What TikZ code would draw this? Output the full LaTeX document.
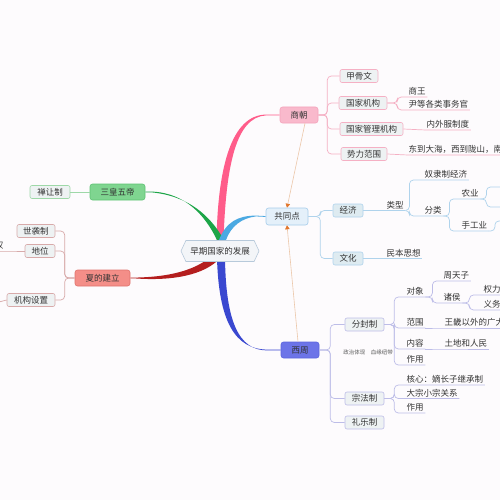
\documentclass[tikz,border=0pt]{standalone}
\usepackage{fontspec}
\setmainfont{Noto Sans CJK SC}
\usetikzlibrary{shapes.symbols,calc,arrows.meta}
\definecolor{bgc}{HTML}{FDFBFD}
\definecolor{txtc}{HTML}{333333}
\definecolor{gbr}{HTML}{1DA548}
\definecolor{gfill}{HTML}{7FD590}
\definecolor{gdraw}{HTML}{5EC373}
\definecolor{glight}{HTML}{9ED8A8}
\definecolor{rbr}{HTML}{B41E1E}
\definecolor{rfill}{HTML}{F48E88}
\definecolor{rdraw}{HTML}{E0726C}
\definecolor{rlight}{HTML}{D8AAAA}
\definecolor{pbr}{HTML}{FF5C8A}
\definecolor{pfill}{HTML}{F9B9CC}
\definecolor{pdraw}{HTML}{F4A3BB}
\definecolor{plight}{HTML}{F5B0C4}
\definecolor{lbr}{HTML}{4BA9E2}
\definecolor{lfill}{HTML}{E4F0FA}
\definecolor{ldraw}{HTML}{A6CCEA}
\definecolor{llight}{HTML}{AFD3EC}
\definecolor{bbr}{HTML}{3A48D0}
\definecolor{bfill}{HTML}{6C74E8}
\definecolor{bdraw}{HTML}{5C65DE}
\definecolor{blight}{HTML}{BDBDE8}
\definecolor{subfill}{HTML}{EEF2F3}
\definecolor{jjfill}{HTML}{DEEBF1}
\definecolor{arrl}{HTML}{ECC7AA}
\definecolor{arrh}{HTML}{E2762C}
\definecolor{rootfill}{HTML}{F3F5F8}
\definecolor{rootdraw}{HTML}{B7C9DA}
\pgfdeclarelayer{back}
\pgfsetlayers{back,main}
\tikzset{
  txt/.style={text=txtc, font=\fontsize{8.5}{10}\selectfont},
  rootbox/.style={signal, signal to=west and east, signal pointer angle=130,
    fill=rootfill, draw=rootdraw, line width=0.6pt, minimum width=78pt,
    minimum height=21pt, inner xsep=2pt, inner ysep=0pt, txt},
  mainbox/.style={rounded corners=2.5pt, minimum height=16pt, inner xsep=3pt,
    inner ysep=0pt, line width=0.6pt, txt},
  subbox/.style={rounded corners=2pt, minimum height=13pt, inner xsep=3pt,
    inner ysep=0pt, line width=0.6pt, fill=subfill, txt},
  leaf/.style={inner xsep=1.5pt, inner ysep=1.5pt, anchor=south west, txt},
  leafl/.style={inner xsep=1.5pt, inner ysep=1.5pt, anchor=south east, txt},
  br/.style={rounded corners=4pt, line width=0.7pt},
  gline/.style={br, draw=glight},
  rline/.style={br, draw=rlight},
  pline/.style={br, draw=plight},
  lline/.style={br, draw=llight},
  bline/.style={br, draw=blight},
  arrline/.style={draw=arrl, line width=0.6pt},
}
\begin{document}
\begin{tikzpicture}[x=1pt,y=-1pt]
\begin{pgfonlayer}{back}
\fill[bgc] (0,0) rectangle (500,500);
\end{pgfonlayer}
\useasboundingbox (0,0) rectangle (500,500);

% central and main nodes
\node[rootbox] (root) at (220,251) {早期国家的发展};
\node[mainbox, fill=gfill, draw=gdraw, minimum width=55pt] (shwd) at (117.5,192) {三皇五帝};
\node[mainbox, fill=rfill, draw=rdraw, minimum width=55pt] (xia) at (102.5,278) {夏的建立};
\node[mainbox, fill=pfill, draw=pdraw, minimum width=38pt] (shang) at (299,115) {商朝};
\node[mainbox, fill=lfill, draw=ldraw, minimum width=42pt, minimum height=17pt] (gtd) at (287,216.5) {共同点};
\node[mainbox, fill=bfill, draw=bdraw, minimum width=38pt] (xz) at (300,350) {西周};

% sub boxes
\node[subbox, draw=glight, minimum width=40pt] (srz) at (50,192) {禅让制};
\node[subbox, draw=rlight, minimum width=38pt] (sxz) at (36,231) {世袭制};
\node[subbox, draw=rlight, minimum width=30pt] (dw) at (40,251) {地位};
\node[subbox, draw=rlight, minimum width=48pt] (jgsz) at (31,300) {机构设置};
\node[subbox, draw=plight, minimum width=38pt] (jgw) at (359,76) {甲骨文};
\node[subbox, draw=plight, minimum width=48pt] (gjjg) at (363,103) {国家机构};
\node[subbox, draw=plight, minimum width=63pt] (gjgl) at (371.5,129) {国家管理机构};
\node[subbox, draw=plight, minimum width=46pt] (slfw) at (364,154) {势力范围};
\node[subbox, fill=jjfill, draw=llight, minimum width=30pt] (jj) at (348,210.5) {经济};
\node[subbox, fill=jjfill, draw=llight, minimum width=30pt] (wh) at (348,258.5) {文化};
\node[subbox, draw=blight, minimum width=39pt] (ffz) at (364.5,324.5) {分封制};
\node[subbox, draw=blight, minimum width=39pt] (zfz) at (364.5,398.5) {宗法制};
\node[subbox, draw=blight, minimum width=39pt] (lyz) at (364.5,422.5) {礼乐制};

% leaves
\node[leafl] (quan) at (5,251) {权};
\node[leaf] (sw) at (407,97) {商王};
\node[leaf] (yd) at (407,110) {尹等各类事务官};
\node[leaf] (nwf) at (425,130) {内外服制度};
\node[leaf] (dd) at (407,155) {东到大海，西到陇山，南};
\node[leaf] (lx) at (385,210.5) {类型};
\node[leaf] (nlz) at (423,180) {奴隶制经济};
\node[leaf] (fl) at (423,216) {分类};
\node[leaf] (ny) at (460,199) {农业};
\node[leaf] (sgy) at (460,231) {手工业};
\node[leaf] (mbsx) at (385,258.5) {民本思想};
\node[leaf] (dx) at (405,297) {对象};
\node[leaf] (ztz) at (442,281) {周天子};
\node[leaf] (zh) at (442,303) {诸侯};
\node[leaf] (ql) at (482,295) {权力};
\node[leaf] (yw) at (482,310) {义务};
\node[leaf] (fw) at (405,328) {范围};
\node[leaf] (wj) at (443,328) {王畿以外的广大};
\node[leaf] (nr) at (405,349) {内容};
\node[leaf] (td) at (443,349) {土地和人民};
\node[leaf] (zy1) at (405,365) {作用};
\node[leaf] (hx) at (405,385) {核心：嫡长子继承制};
\node[leaf] (dz) at (405,398.5) {大宗小宗关系};
\node[leaf] (zy2) at (405,413) {作用};
\node[text=txtc!80, font=\fontsize{5.5}{6}\selectfont] (zzxy) at (368,352) {政治体现\quad 血缘纽带};

% off-page free ends
\coordinate (offjg) at (-5,303);
\coordinate (offa) at (506,187);
\coordinate (offb) at (506,207);
\coordinate (offc) at (506,221);

% main tapered branches
\begin{pgfonlayer}{back}
\fill[pbr] (216.5,240) .. controls (218,165) and (232,115) .. (266,114.6)
  -- ($(shang.west)+(0,-0.4)$) -- ($(shang.west)+(0,0.4)$)
  -- (266,115.4) .. controls (236,117) and (226,165) .. (223.5,240) -- cycle;
\fill[gbr] (217,240) .. controls (205,215) and (185,193) .. (152,191.6)
  -- ($(shwd.east)+(0,-0.4)$) -- ($(shwd.east)+(0,0.4)$)
  -- (152,192.4) .. controls (188,196) and (210,215) .. (224,240) -- cycle;
\fill[lbr] (219,240) .. controls (226,222) and (238,215.6) .. (256,215.6)
  -- ($(gtd.west)+(0,-0.4)$) -- ($(gtd.west)+(0,0.4)$)
  -- (256,216.4) .. controls (242,218) and (231,226) .. (226,240) -- cycle;
\fill[bbr] (217,259) .. controls (219,320) and (234,349.6) .. (268,349.6)
  -- ($(xz.west)+(0,-0.4)$) -- ($(xz.west)+(0,0.4)$)
  -- (268,350.4) .. controls (238,351) and (226,320) .. (225,259) -- cycle;
\fill[rbr] (214,254) .. controls (195,272) and (165,277) .. (135,277.6)
  -- ($(xia.east)+(0,-0.4)$) -- ($(xia.east)+(0,0.4)$)
  -- (135,278.4) .. controls (170,281) and (205,276) .. (221,257) -- cycle;
\end{pgfonlayer}

% arrows between branches
\draw[arrline, -{Triangle[length=4pt,width=4.5pt,color=arrh,fill=arrh]}]
  ($(shang.south)+(6,0)$) -- (gtd.north);
\draw[arrline, -{Triangle[length=4pt,width=4.5pt,color=arrh,fill=arrh]}]
  ($(xz.north)+(-2,0)$) -- (gtd.south);

% connectors
\draw[gline] (shwd.west) -- (srz.east);
\foreach \c in {sxz,dw,jgsz} \draw[rline] (xia.west) -- ++(-10,0) |- (\c.east);
\draw[rline] (dw.west) -- (quan.south east) -- (quan.south west);
\draw[rline] (jgsz.west) -- (offjg);

\foreach \c in {jgw,gjjg,gjgl,slfw} \draw[pline] (shang.east) -- ++(9,0) |- (\c.west);
\foreach \c in {sw,yd} \draw[pline] (gjjg.east) -- ++(10,0) |- (\c.south west) -- (\c.south east);
\draw[pline] (gjgl.east) -- (nwf.south west) -- (nwf.south east);
\draw[pline] (slfw.east) -- (dd.south west) -- (dd.south east);

\foreach \c in {jj,wh} \draw[lline] (gtd.east) -- ++(12,0) |- (\c.west);
\draw[lline] (jj.east) -- (lx.south west) -- (lx.south east);
\foreach \c in {nlz,fl} \draw[lline] (lx.south east) -- ++(4,0) |- (\c.south west) -- (\c.south east);
\foreach \c in {ny,sgy} \draw[lline] (fl.south east) -- ++(6,0) |- (\c.south west) -- (\c.south east);
\foreach \c in {offa,offb} \draw[lline] (ny.south east) -- ++(6,0) |- (\c);
\draw[lline] (sgy.south east) -- ++(6,0) |- (offc);
\draw[lline] (wh.east) -- (mbsx.south west) -- (mbsx.south east);

\foreach \c in {ffz,zfz,lyz} \draw[bline] (xz.east) -- ++(11,0) |- (\c.west);
\foreach \c in {dx,fw,nr,zy1} \draw[bline] (ffz.east) -- ++(10,0) |- (\c.south west) -- (\c.south east);
\foreach \c in {ztz,zh} \draw[bline] (dx.south east) -- ++(7,0) |- (\c.south west) -- (\c.south east);
\foreach \c in {ql,yw} \draw[bline] (zh.south east) -- ++(7,0) |- (\c.south west) -- (\c.south east);
\draw[bline] (fw.south east) -- (wj.south west) -- (wj.south east);
\draw[bline] (nr.south east) -- (td.south west) -- (td.south east);
\foreach \c in {hx,dz,zy2} \draw[bline] (zfz.east) -- ++(10,0) |- (\c.south west) -- (\c.south east);
\end{tikzpicture}
\end{document}
